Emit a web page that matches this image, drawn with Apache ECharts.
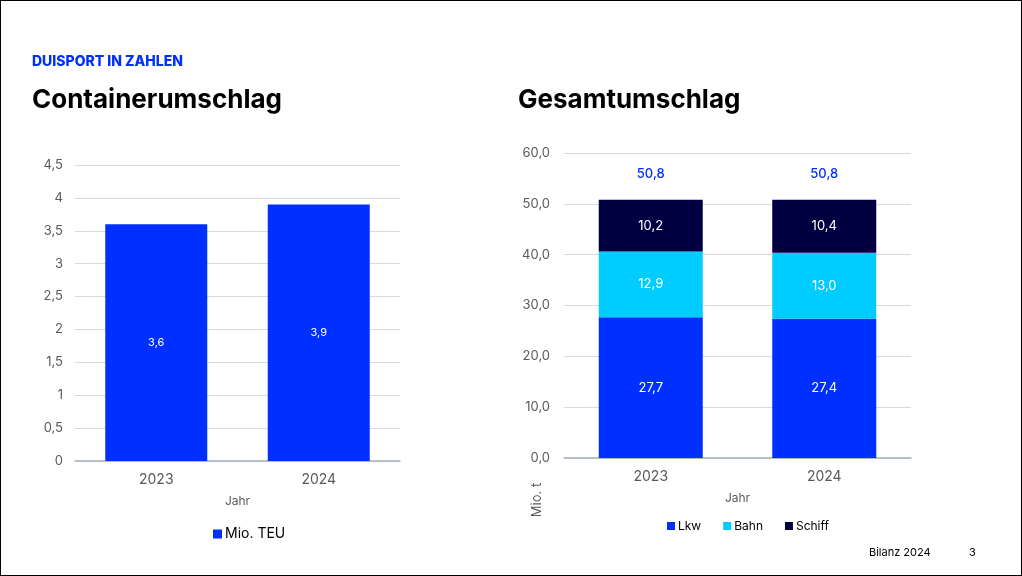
<!DOCTYPE html>
<html><head><meta charset="utf-8">
<script src="https://cdn.jsdelivr.net/npm/echarts@6/dist/echarts.min.js"></script>
<style>
html,body{margin:0;padding:0;background:#fff;}
#c{width:1022px;height:576px;box-sizing:border-box;border:1px solid #000;}
</style></head>
<body><div id="c"></div>
<script>
const years = ['2023', '2024'];
const containerTEU = [3.6, 3.9];
const lkw = [27.7, 27.4];
const bahn = [12.9, 13.0];
const schiff = [10.2, 10.4];
const totals = [50.8, 50.8];

const FONT = 'Inter, "Noto Sans", sans-serif';
const BLUE = '#0030ff', CYAN = '#00ccff', NAVY = '#000040';
const comma = v => String(v).replace('.', ',');
const comma1 = v => Number(v).toFixed(1).replace('.', ',');

const chart = echarts.init(document.getElementById('c'));
chart.setOption({
  animation: false,
  textStyle: {fontFamily: FONT},
  graphic: [
    {type:'text', left: 31, top: 54, style:{text:'DUISPORT IN ZAHLEN', fill: BLUE, font:'800 14px ' + FONT}},
    {type:'text', left: 31, top: 86, style:{text:'Containerumschlag', fill:'#000', font:'700 26px ' + FONT}},
    {type:'text', left: 517, top: 86, style:{text:'Gesamtumschlag', fill:'#000', font:'700 26px ' + FONT}},
    {type:'text', x: 536, y: 499, rotation: Math.PI/2, style:{text:'Mio. t', fill:'#595959', font:'13px ' + FONT, textAlign:'center', textVerticalAlign:'middle'}},
    {type:'text', left: 868, top: 546, style:{text:'Bilanz 2024', fill:'#000', font:'11px ' + FONT}},
    {type:'text', left: 968, top: 546, style:{text:'3', fill:'#000', font:'11px ' + FONT}}
  ],
  legend: [
    {data:['Mio. TEU'], left: 207, top: 521, itemWidth: 9, itemHeight: 9, icon:'rect', itemGap: 4,
     textStyle:{fontSize: 14, color:'#000', fontFamily: FONT, padding:[0,0,0,-2]}},
    {data:['Lkw','Bahn','Schiff'], left: 661, top: 514, itemWidth: 8, itemHeight: 8, icon:'rect', itemGap: 22,
     textStyle:{fontSize: 12, color:'#000', fontFamily: FONT, padding:[0,0,0,-2]}}
  ],
  grid: [
    {left: 74, width: 325, top: 164, height: 296},
    {left: 563, width: 347, top: 152, height: 305}
  ],
  xAxis: [
    {type:'category', gridIndex:0, data: years, axisTick:{show:false},
     axisLine:{lineStyle:{color:'#a6afc0', width:1.5}},
     axisLabel:{color:'#595959', fontSize:14, margin:12},
     name:'Jahr', nameLocation:'middle', nameGap:34, nameTextStyle:{color:'#595959', fontSize:12}},
    {type:'category', gridIndex:1, data: years, axisTick:{show:false},
     axisLine:{lineStyle:{color:'#a6afc0', width:1.5}},
     axisLabel:{color:'#595959', fontSize:14, margin:12},
     name:'Jahr', nameLocation:'middle', nameGap:34, nameTextStyle:{color:'#595959', fontSize:12}}
  ],
  yAxis: [
    {type:'value', gridIndex:0, min:0, max:4.5, interval:0.5,
     axisLine:{show:false}, axisTick:{show:false},
     splitLine:{lineStyle:{color:'#d9d9d9'}},
     axisLabel:{color:'#595959', fontSize:13, margin:12, formatter: comma}},
    {type:'value', gridIndex:1, min:0, max:60, interval:10,
     axisLine:{show:false}, axisTick:{show:false},
     splitLine:{lineStyle:{color:'#d9d9d9'}},
     axisLabel:{color:'#595959', fontSize:13, margin:14, formatter: comma1}}
  ],
  series: [
    {name:'Mio. TEU', type:'bar', xAxisIndex:0, yAxisIndex:0, data: containerTEU, barWidth:102,
     itemStyle:{color: BLUE},
     label:{show:true, position:'inside', color:'#fff', fontSize:11, formatter: p => comma(p.value)}},
    {name:'Lkw', type:'bar', stack:'g', xAxisIndex:1, yAxisIndex:1, data: lkw, barWidth:104,
     itemStyle:{color: BLUE},
     label:{show:true, position:'inside', color:'#fff', fontSize:13, formatter: p => comma1(p.value)}},
    {name:'Bahn', type:'bar', stack:'g', xAxisIndex:1, yAxisIndex:1, data: bahn,
     itemStyle:{color: CYAN},
     label:{show:true, position:'inside', color:'#fff', fontSize:13, formatter: p => comma1(p.value)}},
    {name:'Schiff', type:'bar', stack:'g', xAxisIndex:1, yAxisIndex:1, data: schiff,
     itemStyle:{color: NAVY},
     label:{show:true, position:'inside', color:'#fff', fontSize:13, formatter: p => comma1(p.value)}},
    {name:'Gesamt', type:'scatter', xAxisIndex:1, yAxisIndex:1, data: totals, symbolSize:0.01,
     itemStyle:{opacity:1},
     label:{show:true, position:'top', distance:19, color: BLUE, fontSize:13, fontWeight:500, formatter: p => comma1(p.value)}}
  ]
});
</script></body></html>
